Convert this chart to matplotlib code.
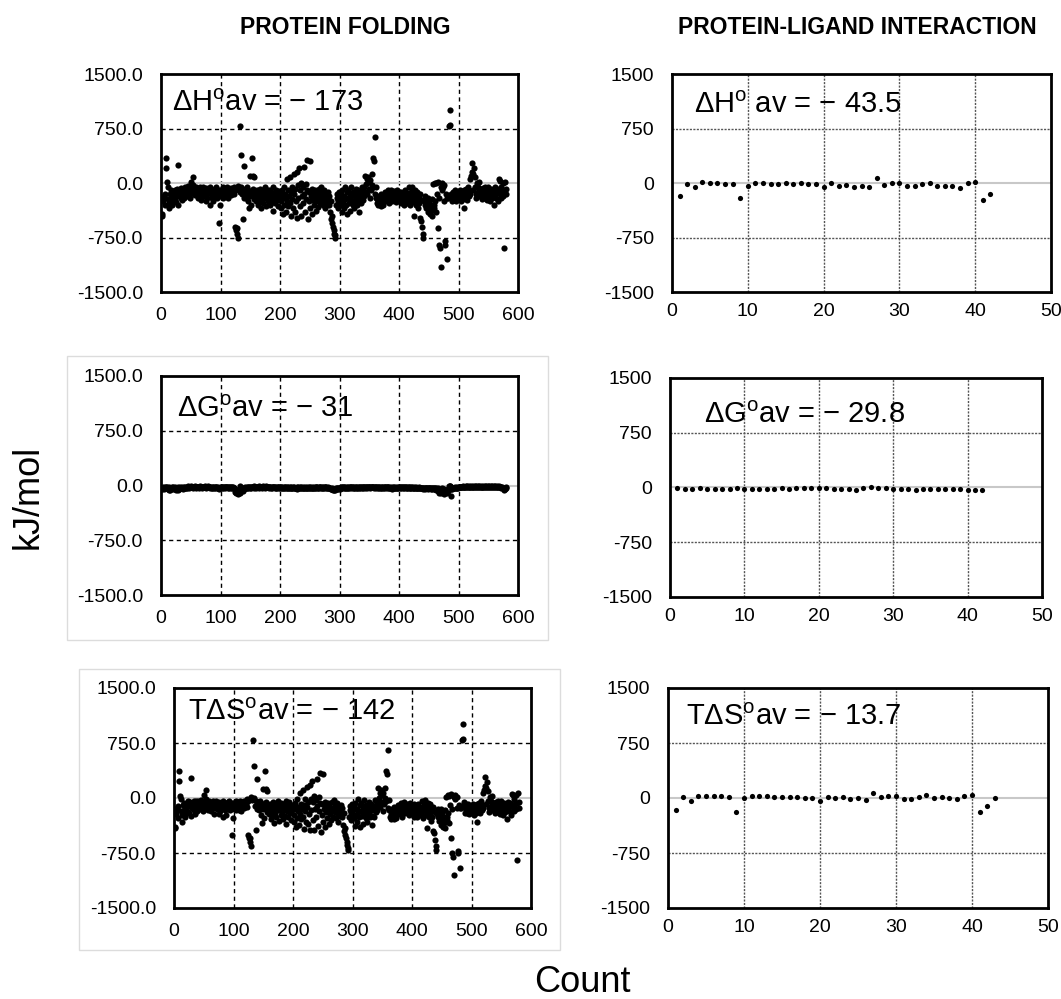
import matplotlib
matplotlib.use("Agg")
import matplotlib.pyplot as plt
from matplotlib.patches import Rectangle

plt.rcParams['font.family'] = ['Liberation Sans', 'DejaVu Sans']
plt.rcParams['mathtext.fontset'] = 'custom'
plt.rcParams['mathtext.rm'] = 'Liberation Sans'
plt.rcParams['mathtext.it'] = 'Liberation Sans:italic'

# ---- protein folding (count 1..580), kJ/mol ----
fold_dH = [
    -420, -450, -200, -250, -180, -300, -150, 350, 200, 10, -50, -220, -350, -280, -150, -100, -200, -250, -300, -180,
    -120, -160, -90, -220, -260, -130, -80, -300, 250, -150, -180, -110, -70, -200, -240, -130, -90, -160, -210, -120,
    -60, -100, -150, -180, -40, -120, -90, -200, -140, 20, -60, -110, 80, -30, -150, -90, -170, -130, -60, -100,
    -140, -80, -200, -120, -50, -160, -100, -230, -90, -130, -60, -180, -110, -150, -250, -70, -120, -200, -80, -140,
    -100, -300, -60, -150, -200, -130, -90, -250, -110, -170, -80, -140, -60, -200, -120, -160, -100, -550, -300, -180,
    -90, -150, -120, -60, -200, -100, -140, -80, -180, -110, -60, -130, -200, -90, -150, -100, -70, -160, -120, -80,
    -110, -60, -150, -90, -600, -650, -700, -620, -760, -40, -100, 780, -120, 380, -60, -150, -90, -500, -200, 230,
    -80, -130, -200, -60, -150, -250, -100, -350, 100, -180, -120, -300, 350, -80, 100, -220, 80, -160, -250, -120,
    -200, -100, -300, -150, -250, -80, -180, -350, -120, -220, -100, -280, -150, -60, -200, -320, -120, -180, -250, -90,
    -140, -220, -300, -100, -180, -260, -150, -380, -60, -200, -120, -280, -160, -90, -240, -170, -320, -110, -200, -150,
    -250, -350, -100, -180, -420, -60, -300, -200, -150, -400, -250, 50, -320, -100, -180, 80, -280, -450, -120, -220,
    -50, -350, 120, -150, -400, -80, -250, 150, -480, -30, -200, 200, -320, -100, 0, -450, -180, -60, -280, 220,
    -150, -400, -20, -220, 320, -100, -500, -250, -120, 300, -350, -180, -80, -420, -230, -150, -300, -100, -200, -380,
    -120, -250, -180, -330, -80, -200, -150, -280, -60, -220, -130, -300, -170, -100, -250, -350, -150, -200, -280, -120,
    -220, -300, -180, -400, -250, -500, -450, -550, -600, -700, -650, -720, -760, -300, -200, -150, -350, -250, -120, -280,
    -200, -300, -150, -400, -100, -250, -180, -350, -50, -220, -300, -130, -420, -200, -100, -280, -150, -380, -60, -230,
    -170, -300, -120, -250, -350, -180, -80, -220, -300, -150, -100, -260, -400, -200, -130, -280, -170, -50, -230, -120,
    -60, -180, 100, -120, -20, 50, -150, 80, -80, 20, -200, 40, -100, -30, 120, -60, 350, 300, -150, 630,
    -50, -200, -280, -250, -300, -220, -180, -260, -320, -150, -240, -200, -300, -160, -220, -180, -120, -250, -200, -140,
    -100, -200, -280, -150, -230, -180, -90, -250, -130, -200, -160, -110, -220, -140, -260, -190, -100, -170, -240, -130,
    -150, -220, -280, -120, -200, -180, -250, -300, -160, -100, -230, -190, -270, -140, -210, -60, -250, -180, -300, -120,
    -200, -50, -260, -150, -450, -220, -100, -300, -180, -250, -120, -350, -200, -280, -480, -150, -520, -230, -600, -750,
    -700, -250, -180, -300, -220, -350, -280, -400, -200, -330, -250, -420, -300, -380, -450, -220, -10, -300, -350, 0,
    -250, -400, 0, -150, 10, -620, -200, -850, -900, -1150, -50, 0, -100, -60, -250, -30, -850, -800, -150, -200,
    -1050, -200, -180, 780, 800, 1000, -200, -150, -250, -120, -180, -230, -150, -100, -200, -250, -130, -180, -220, -160,
    -140, -200, -100, -250, -180, -120, -220, -150, -350, -100, -200, -160, -80, -230, -130, -60, -180, -100, 50, -150,
    100, 150, 270, 120, -100, 200, -50, 80, -150, -200, 0, -120, -60, -180, 20, -100, -150, -80, -220, -130,
    -70, -160, -100, -200, -50, -150, -90, -230, -120, -60, -180, -100, -250, -140, -80, -200, -110, -160, -300, -100,
    -150, -60, -200, -120, -80, -250, -100, 50, -150, 30, -200, -50, -100, 0, -180, -900, -130, 20, -80, -150,
]

fold_dG = [
    -30, -45, -20, -35, -50, -25, -40, -15, -30, -20, -35, -45, -25, -55, -60, -30, -40, -25, -35, -50,
    -20, -35, -45, -25, -60, -40, -30, -55, -20, -35, -45, -25, -30, -40, -20, -35, -50, -25, -30, -40,
    -15, -30, -20, -35, -10, -25, -30, -20, -15, -25, -10, -20, -30, -15, -25, -20, -10, -30, -20, -25,
    -20, -15, -25, -30, -10, -20, -25, -15, -30, -20, -15, -25, -20, -10, -30, -15, -25, -20, -10, -20,
    -25, -35, -15, -20, -30, -40, -20, -25, -35, -15, -30, -20, -25, -40, -30, -20, -35, -45, -30, -25,
    -20, -30, -25, -15, -35, -20, -25, -30, -15, -20, -25, -35, -20, -30, -25, -15, -30, -25, -20, -30,
    -25, -40, -30, -50, -90, -100, -95, -80, -110, -60, -70, -10, -100, -50, -60, -40, -50, -70, -45, -35,
    -30, -20, -40, -25, -35, -20, -30, -15, -25, -35, -20, -30, -15, -25, -20, -30, -10, -25, -35, -20,
    -15, -25, -20, -30, -10, -20, -25, -15, -30, -20, -10, -25, -15, -20, -30, -10, -20, -25, -15, -20,
    -20, -30, -15, -25, -35, -20, -30, -25, -15, -20, -30, -25, -20, -35, -30, -20, -25, -15, -30, -35,
    -25, -20, -30, -35, -25, -40, -30, -20, -25, -35, -30, -20, -40, -25, -30, -35, -20, -30, -25, -40,
    -30, -20, -35, -25, -40, -30, -35, -25, -45, -20, -30, -35, -25, -40, -30, -20, -35, -30, -25, -40,
    -35, -25, -30, -40, -20, -30, -35, -25, -40, -30, -20, -35, -25, -30, -40, -30, -25, -35, -30, -20,
    -25, -30, -20, -35, -25, -30, -20, -25, -35, -30, -20, -25, -30, -35, -20, -25, -30, -20, -35, -25,
    -30, -35, -40, -30, -45, -50, -40, -45, -55, -60, -50, -45, -55, -40, -35, -45, -50, -40, -35, -45,
    -30, -25, -35, -20, -30, -25, -35, -20, -30, -25, -35, -30, -20, -25, -30, -35, -25, -20, -30, -25,
    -20, -30, -25, -35, -20, -30, -25, -20, -35, -30, -25, -20, -30, -35, -25, -20, -30, -25, -35, -20,
    -25, -20, -30, -25, -15, -20, -30, -25, -20, -15, -25, -30, -20, -25, -15, -20, -25, -30, -20, -25,
    -20, -30, -25, -35, -20, -30, -25, -20, -35, -30, -25, -20, -30, -25, -35, -20, -25, -30, -20, -25,
    -30, -25, -20, -35, -30, -25, -40, -45, -30, -25, -20, -35, -30, -40, -25, -30, -35, -20, -30, -25,
    -20, -30, -25, -35, -20, -25, -30, -35, -25, -20, -30, -25, -35, -20, -30, -25, -20, -35, -30, -25,
    -30, -25, -35, -30, -40, -25, -30, -35, -25, -30, -35, -40, -30, -25, -35, -30, -40, -35, -30, -45,
    -40, -30, -35, -45, -30, -40, -35, -30, -45, -35, -40, -30, -35, -45, -40, -50, -30, -40, -45, -35,
    -45, -60, -30, -50, -40, -80, -55, -100, -90, -100, -60, -40, -85, -70, -110, -50, -95, -80, -55, -60,
    -100, -70, -60, -10, -5, -10, -150, -50, -45, -40, -35, -30, -40, -25, -30, -35, -25, -30, -35, -25,
    -20, -25, -15, -20, -25, -15, -20, -10, -25, -15, -20, -10, -15, -20, -10, -15, -20, -10, -15, -20,
    -10, -15, -20, -10, -15, -20, -10, -15, -20, -10, -15, -10, -20, -15, -10, -20, -15, -10, -15, -20,
    -10, -15, -20, -10, -15, -10, -20, -15, -10, -15, -20, -10, -15, -20, -10, -15, -10, -20, -15, -10,
    -15, -10, -20, -15, -10, -20, -15, -10, -25, -15, -20, -30, -25, -40, -35, -50, -60, -45, -30, -20,
]

fold_TdS = [
    -390, -405, -180, -215, -130, -275, -110, 365, 230, 30, -15, -175, -325, -225, -90, -70, -160, -225, -265, -130,
    -100, -125, -45, -195, -200, -90, -50, -245, 270, -115, -135, -85, -40, -160, -220, -95, -40, -135, -180, -80,
    -45, -70, -130, -145, -30, -95, -60, -180, -125, 45, -50, -90, 110, -15, -125, -70, -160, -100, -40, -75,
    -120, -65, -175, -90, -40, -140, -75, -215, -60, -110, -45, -155, -90, -140, -220, -55, -95, -180, -70, -120,
    -75, -265, -45, -130, -170, -90, -70, -225, -75, -155, -50, -120, -35, -160, -90, -140, -65, -505, -270, -155,
    -70, -120, -95, -45, -165, -80, -115, -50, -165, -90, -35, -95, -180, -60, -125, -85, -40, -135, -100, -50,
    -85, -20, -120, -40, -510, -550, -605, -540, -650, 20, -30, 790, -20, 430, 0, -110, -40, -430, -155, 265,
    -50, -110, -160, -35, -115, -230, -70, -335, 125, -145, -100, -270, 365, -55, 120, -190, 90, -135, -215, -100,
    -185, -75, -280, -120, -240, -60, -155, -335, -90, -200, -90, -255, -135, -40, -170, -310, -100, -155, -235, -70,
    -120, -190, -285, -75, -145, -240, -120, -355, -45, -180, -90, -255, -140, -55, -210, -150, -295, -95, -170, -115,
    -225, -330, -70, -145, -395, -20, -270, -180, -125, -365, -220, 70, -280, -75, -150, 115, -260, -420, -95, -180,
    -20, -330, 155, -125, -360, -50, -215, 175, -435, -10, -170, 235, -295, -60, 30, -430, -145, -30, -255, 260,
    -115, -375, 10, -180, 340, -70, -465, -225, -80, 330, -330, -145, -55, -390, -190, -120, -275, -65, -170, -360,
    -95, -220, -160, -295, -55, -170, -130, -255, -25, -190, -110, -275, -140, -65, -230, -325, -120, -180, -245, -95,
    -190, -265, -140, -370, -205, -450, -410, -505, -545, -640, -600, -675, -705, -260, -165, -105, -300, -210, -85, -235,
    -170, -275, -115, -380, -70, -225, -145, -330, -20, -195, -265, -100, -400, -175, -70, -245, -125, -360, -30, -205,
    -150, -270, -95, -215, -330, -150, -55, -200, -265, -120, -75, -240, -370, -165, -105, -260, -140, -25, -195, -100,
    -35, -160, 130, -95, -5, 70, -120, 105, -60, 35, -175, 70, -80, -5, 135, -40, 375, 330, -130, 655,
    -30, -170, -255, -215, -280, -190, -155, -240, -285, -120, -215, -180, -270, -135, -185, -160, -95, -220, -180, -115,
    -70, -175, -260, -115, -200, -155, -50, -205, -100, -175, -140, -75, -190, -100, -235, -160, -65, -150, -210, -105,
    -130, -190, -255, -85, -180, -155, -220, -265, -135, -80, -200, -165, -235, -120, -180, -35, -230, -145, -270, -95,
    -170, -25, -225, -120, -410, -195, -70, -265, -155, -220, -85, -310, -170, -255, -445, -120, -480, -195, -570, -705,
    -660, -220, -145, -255, -190, -310, -245, -370, -155, -295, -210, -390, -265, -335, -410, -170, 20, -260, -305, 35,
    -205, -340, 30, -100, 50, -540, -145, -750, -810, -1050, 10, 40, -15, 10, -140, 20, -755, -720, -95, -140,
    -950, -130, -120, 790, 805, 1010, -50, -100, -205, -80, -145, -200, -110, -75, -170, -215, -105, -150, -185, -135,
    -120, -175, -85, -230, -155, -105, -200, -140, -325, -85, -180, -150, -65, -210, -120, -45, -160, -90, 65, -130,
    110, 165, 290, 130, -85, 220, -40, 95, -130, -190, 15, -110, -40, -165, 30, -80, -135, -70, -205, -110,
    -60, -145, -80, -190, -35, -140, -70, -215, -110, -45, -160, -90, -235, -120, -70, -185, -100, -140, -285, -90,
    -135, -50, -180, -105, -70, -230, -85, 60, -125, 45, -180, -20, -75, 40, -145, -850, -70, 65, -50, -130,
]

# ---- protein-ligand interaction, kJ/mol ----
lig_dH = [-180, -20, -55, 15, 0, 0, -15, -15, -210, -35, 0, 0, -15, -15, -5, -20, -5, -20, -20, -55,
          -5, -35, -25, -55, -45, -60, 75, -25, -5, -5, -40, -35, -20, -5, -35, -35, -45, -65, -5, 10,
          -230, -145]
lig_dG = [-10, -15, -15, -10, -20, -20, -20, -15, -10, -20, -20, -20, -20, -15, -10, -20, -10, -10, -10, -10,
          -10, -15, -20, -25, -40, -10, 0, -10, -10, -15, -25, -15, -30, -25, -25, -25, -25, -15, -25, -30,
          -30, -40]
lig_TdS = [-160, 10, -35, 25, 25, 25, 25, 10, -185, -5, 25, 25, 25, 10, 10, 10, 10, -5, -5, -45,
           10, -5, 10, -20, -5, -30, 65, 10, 25, 25, -20, -20, 10, 35, -5, 10, -5, -20, 25, 45,
           -185, -105, 0]

fold_labels = ["ΔH$^{\\mathrm{o}}$av = − 173", "ΔG$^{\\mathrm{o}}$av = − 31", "TΔS$^{\\mathrm{o}}$av = − 142"]
lig_labels = ["ΔH$^{\\mathrm{o}}$ av = − 43.5", "ΔG$^{\\mathrm{o}}$av = − 29.8", "TΔS$^{\\mathrm{o}}$av = − 13.7"]

W, H = 1061, 999
fig = plt.figure(figsize=(W / 100, H / 100), dpi=100)


def px_axes(l, r, t, b):
    return fig.add_axes([l / W, 1 - b / H, (r - l) / W, (b - t) / H])


# light frames around two of the left panels
for (x0, y0, x1, y1) in [(67, 356, 548, 640), (79, 669, 560, 950)]:
    fig.add_artist(Rectangle((x0 / W, 1 - y1 / H), (x1 - x0) / W, (y1 - y0) / H,
                             transform=fig.transFigure, fill=False, ec='#dcdcdc', lw=1))


def style(ax, xmax, xstep, ylabels, gridls, gridcol):
    ax.set_xlim(0, xmax)
    ax.set_ylim(-1500, 1500)
    xt = list(range(0, xmax + 1, xstep))
    yt = [-1500, -750, 0, 750, 1500]
    ax.set_xticks(xt)
    ax.set_yticks(yt)
    ax.set_yticklabels(ylabels)
    ax.tick_params(length=0, labelsize=14)
    for v in xt[1:-1]:
        ax.axvline(v, color=gridcol, ls=gridls, lw=1, zorder=1)
    for v in (-750, 750):
        ax.axhline(v, color=gridcol, ls=gridls, lw=1, zorder=1)
    ax.axhline(0, color='#c8c8c8', lw=1.5, zorder=1)
    for s in ax.spines.values():
        s.set_linewidth(2)


left_boxes = [(161, 518, 74, 292), (161, 518, 376, 595), (174, 531, 688, 908)]
right_boxes = [(672, 1051, 74, 292), (670, 1042, 378, 597), (668, 1048, 688, 908)]
fold_series = [fold_dH, fold_dG, fold_TdS]
lig_series = [lig_dH, lig_dG, lig_TdS]
fold_ylab = ["-1500.0", "-750.0", "0.0", "750.0", "1500.0"]
lig_ylab = ["-1500", "-750", "0", "750", "1500"]
fold_txt = [(172, 103), (177, 409), (188, 712)]
lig_txt = [(694, 105), (704, 415), (686, 717)]

for box, ys, lab, (tx, ty) in zip(left_boxes, fold_series, fold_labels, fold_txt):
    ax = px_axes(*box)
    style(ax, 600, 100, fold_ylab, (0, (3, 2.5)), 'black')
    ax.tick_params(axis='y', pad=13)
    ax.tick_params(axis='x', pad=11)
    ax.scatter(range(1, len(ys) + 1), ys, s=20, color='black', lw=0, zorder=3)
    fig.text(tx / W, 1 - ty / H, lab, fontsize=21, va='center', ha='left')

for box, ys, lab, (tx, ty) in zip(right_boxes, lig_series, lig_labels, lig_txt):
    ax = px_axes(*box)
    style(ax, 50, 10, lig_ylab, (0, (1.5, 1)), '#555555')
    ax.tick_params(axis='y', pad=13)
    ax.tick_params(axis='x', pad=8)
    ax.scatter(range(1, len(ys) + 1), ys, s=14, color='black', lw=0, zorder=3)
    fig.text(tx / W, 1 - ty / H, lab, fontsize=21, va='center', ha='left')

fig.text(345 / W, 1 - 28 / H, "PROTEIN FOLDING", fontsize=16.5, fontweight='bold', ha='center', va='center')
fig.text(857 / W, 1 - 28 / H, "PROTEIN-LIGAND INTERACTION", fontsize=16.5, fontweight='bold', ha='center', va='center')
fig.text(28 / W, 1 - 497 / H, "kJ/mol", fontsize=26, rotation=90, ha='center', va='center')
fig.text(582 / W, 1 - 983 / H, "Count", fontsize=26, ha='center', va='center')

fig.savefig("out.png", dpi=100)
